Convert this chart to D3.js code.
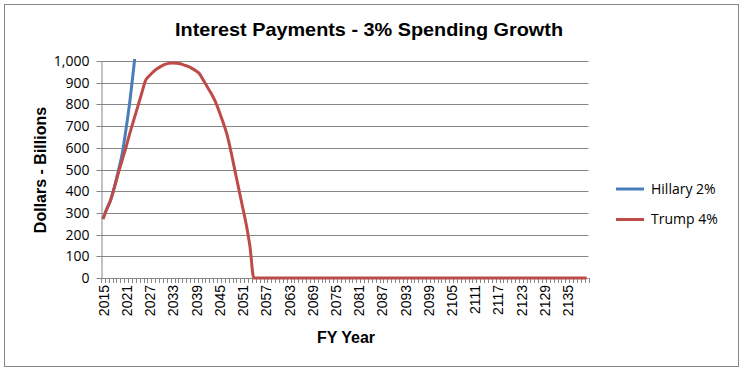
<!DOCTYPE html>
<html><head><meta charset="utf-8">
<script src="https://cdn.jsdelivr.net/npm/d3@7"></script>
<style>
html,body{margin:0;padding:0;background:#fff;}
svg{display:block;}
</style></head>
<body>
<svg id="chart" width="744" height="372"></svg>
<script>
const title = "Interest Payments - 3% Spending Growth";
const yTitle = "Dollars - Billions";
const xTitle = "FY Year";
const startYear = 2015, endYear = 2140;
const years = d3.range(startYear, endYear + 1);
const yTicks = [0,100,200,300,400,500,600,700,800,900,1000];
const seriesNames = ["Hillary 2%", "Trump 4%"];
// Hillary 2% (runs off the top of the axis after 2022)
const hillary = [272, 318, 360, 422, 495, 575, 690, 820, 975, 1150];
// Trump 4%, 2015..2054, then zero
const trumpHead = [272, 318, 360, 420, 485, 545, 605, 670, 730, 790, 850, 910,
  932, 950, 964, 975, 984, 989, 991, 990, 987, 981, 975, 966, 955, 940,
  910, 880, 850, 815, 770, 720, 665, 590, 505, 420, 335, 250, 145, 0];
const trump = years.map((y, i) => i < trumpHead.length ? trumpHead[i] : 0);

const colors = ["#4a7ebb", "#be4b48"];
const svg = d3.select("#chart");

svg.append("rect").attr("x", 4.5).attr("y", 4.5).attr("width", 734).attr("height", 362)
  .attr("fill", "#fff").attr("stroke", "#868686").attr("stroke-width", 1);

const x = d3.scaleBand().domain(years).range([101, 588.5]).paddingInner(0).paddingOuter(0);
const y = d3.scaleLinear().domain([0, 1000]).range([278, 61]);
const cx = d => x(d) + x.bandwidth() / 2;

// gridlines
svg.append("g").selectAll("line").data(yTicks.filter(d => d > 0)).join("line")
  .attr("x1", 101).attr("x2", 588.5)
  .attr("y1", d => Math.round(y(d)) + 0.5).attr("y2", d => Math.round(y(d)) + 0.5)
  .attr("stroke", "#868686").attr("stroke-width", 1);

// y axis
const yAxis = svg.append("g").attr("transform", "translate(101.5,0.5)")
  .call(d3.axisLeft(y).tickValues(yTicks).tickFormat(d3.format(",")).tickSize(5).tickSizeOuter(0));
yAxis.select(".domain").attr("stroke", "#868686");
yAxis.selectAll(".tick line").attr("stroke", "#868686");
yAxis.selectAll("text").attr("font-family", "'Open Sans', 'Liberation Sans', sans-serif")
  .attr("font-size", "14px").attr("fill", "#000").attr("x", -12);
yAxis.selectAll(".tick").attr("transform", d => `translate(0,${Math.round(y(d))})`);

// x axis baseline and minor ticks
const xg = svg.append("g");
xg.append("line").attr("x1", 101).attr("x2", 588.5).attr("y1", 278.5).attr("y2", 278.5)
  .attr("stroke", "#868686");
const tickPos = years.map(d => x(d)).concat([x(endYear) + x.bandwidth()]);
xg.selectAll("line.t").data(tickPos).join("line").attr("class", "t")
  .attr("x1", d => Math.round(d) + 0.5).attr("x2", d => Math.round(d) + 0.5)
  .attr("y1", 278).attr("y2", 283).attr("stroke", "#868686");

// x labels every 6 years
const labelYears = years.filter((d, i) => i % 6 === 0);
const xAxis = svg.append("g").attr("transform", "translate(0,278)")
  .call(d3.axisBottom(x).tickValues(labelYears).tickSize(0));
xAxis.select(".domain").remove();
xAxis.selectAll("text")
  .attr("font-family", "'Liberation Sans', Arial, sans-serif").attr("font-size", "14px").attr("fill", "#000")
  .attr("transform", "rotate(-90)").attr("text-anchor", "end")
  .attr("x", -7).attr("y", 1).attr("dy", "0.35em");

// clip
svg.append("clipPath").attr("id", "plotclip").append("rect")
  .attr("x", 101).attr("y", 59).attr("width", 490).attr("height", 222);

const line = d3.line().x((d, i) => cx(years[i])).y(d => y(d)).curve(d3.curveMonotoneX);
const pg = svg.append("g").attr("clip-path", "url(#plotclip)");
pg.append("path").datum(hillary).attr("d", line).attr("fill", "none")
  .attr("stroke", colors[0]).attr("stroke-width", 3).attr("stroke-linejoin", "round");
pg.append("path").datum(trump).attr("d", line).attr("fill", "none")
  .attr("stroke", colors[1]).attr("stroke-width", 3).attr("stroke-linejoin", "round");

// titles
svg.append("text").attr("x", 369).attr("y", 36).attr("text-anchor", "middle")
  .attr("font-family", "'Liberation Sans', Arial, sans-serif")
  .attr("textLength", 388).attr("lengthAdjust", "spacingAndGlyphs")
  .attr("font-weight", "bold").attr("font-size", "18.5px").text(title);
svg.append("text").attr("transform", "translate(46,170) rotate(-90)").attr("text-anchor", "middle")
  .attr("font-family", "'Liberation Sans', Arial, sans-serif")
  .attr("font-weight", "bold").attr("font-size", "16px").text(yTitle);
svg.append("text").attr("x", 346).attr("y", 343).attr("text-anchor", "middle")
  .attr("font-family", "'Liberation Sans', Arial, sans-serif")
  .attr("font-weight", "bold").attr("font-size", "16px").text(xTitle);

// legend
const lg = svg.append("g");
seriesNames.forEach((n, i) => {
  const ly = 189 + i * 30.5;
  lg.append("line").attr("x1", 616).attr("x2", 644).attr("y1", ly).attr("y2", ly)
    .attr("stroke", colors[i]).attr("stroke-width", 3);
  lg.append("text").attr("x", 651).attr("y", ly).attr("dy", "0.35em")
    .attr("font-family", "'Open Sans', 'Liberation Sans', sans-serif").attr("font-size", "14px")
    .attr("fill", "#000").text(n);
});
</script>
</body></html>
